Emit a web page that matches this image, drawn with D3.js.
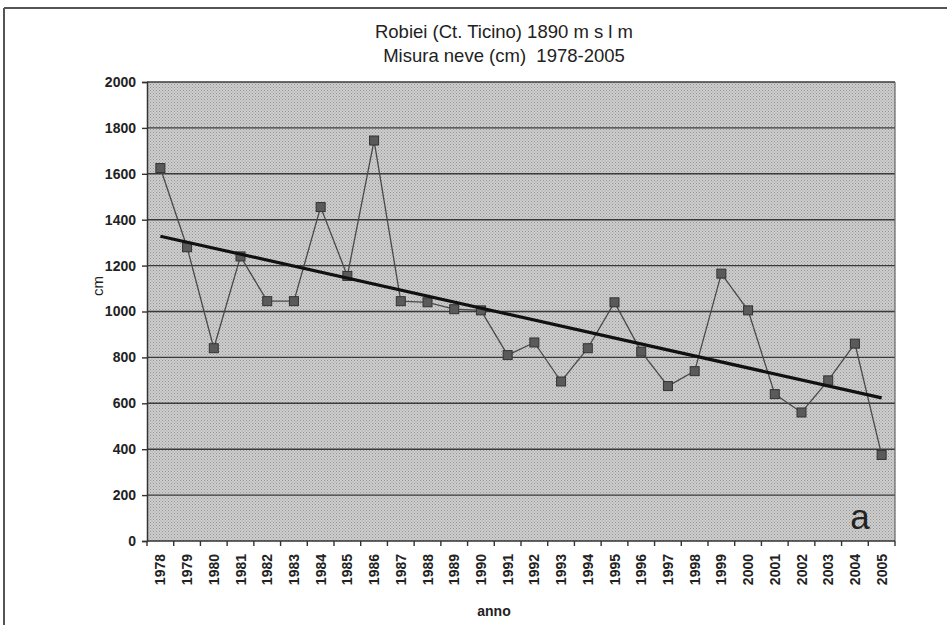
<!DOCTYPE html>
<html>
<head>
<meta charset="utf-8">
<script src="https://cdn.jsdelivr.net/npm/d3@7/dist/d3.min.js"></script>
<style>
	body { margin: 0; background: #fff; }
	svg { display: block; font-family: "Liberation Sans", Arial, sans-serif; }
</style>
</head>
<body>
<svg id="chart" width="947" height="625"></svg>
<script>
// data (snow depth, cm)
const years = [1978, 1979, 1980, 1981, 1982, 1983, 1984, 1985, 1986, 1987, 1988, 1989, 1990, 1991,
	1992, 1993, 1994, 1995, 1996, 1997, 1998, 1999, 2000, 2001, 2002, 2003, 2004, 2005];
const snow = [1625, 1280, 840, 1240, 1045, 1045, 1455, 1155, 1745, 1045, 1040, 1010, 1005, 810,
	865, 695, 840, 1040, 825, 675, 740, 1165, 1005, 640, 560, 700, 860, 375];
const yTicks = [0, 200, 400, 600, 800, 1000, 1200, 1400, 1600, 1800, 2000];
const titleLines = ["Robiei (Ct. Ticino) 1890 m s l m", "Misura neve (cm)  1978-2005"];

const svg = d3.select('#chart');

// plot area
const pLeft = 147, pRight = 895, pTop = 82, pBottom = 541;

// frame lines (top + left only are visible)
svg.append("line").attr("x1", 4).attr("y1", 8).attr("x2", 947).attr("y2", 8)
	.attr("stroke", "#555").attr("stroke-width", 2);
svg.append("line").attr("x1", 4).attr("y1", 8).attr("x2", 4).attr("y2", 625)
	.attr("stroke", "#555").attr("stroke-width", 2);

// dotted grey background like the scanned print
const defs = svg.append("defs");
const pat = defs.append("pattern").attr("id", "dots")
	.attr("width", 3).attr("height", 3).attr("patternUnits", "userSpaceOnUse");
pat.append("rect").attr("width", 3).attr("height", 3).attr("fill", "#cdcdcd");
pat.append("rect").attr("width", 1).attr("height", 1).attr("fill", "#959595");
pat.append("rect").attr("x", 1.5).attr("y", 1.5).attr("width", 1).attr("height", 1).attr("fill", "#a3a3a3");

svg.append("rect")
	.attr("x", pLeft).attr("y", pTop)
	.attr("width", pRight - pLeft).attr("height", pBottom - pTop)
	.attr("fill", "url(#dots)");

const x = d3.scaleBand().domain(years).range([pLeft, pRight]);
const y = d3.scaleLinear().domain([0, 2000]).range([pBottom, pTop]);

// horizontal gridlines
svg.append("g").selectAll("line").data(yTicks.slice(1)).join("line")
	.attr("x1", pLeft).attr("x2", pRight)
	.attr("y1", d => y(d)).attr("y2", d => y(d))
	.attr("stroke", "#3a3a3a").attr("stroke-width", 1.4);

// right border of plot
svg.append("line").attr("x1", pRight).attr("x2", pRight).attr("y1", pTop).attr("y2", pBottom)
	.attr("stroke", "#666").attr("stroke-width", 1.2);

// y axis
const yAxis = svg.append("g").attr("transform", `translate(${pLeft},0)`)
	.call(d3.axisLeft(y).tickValues(yTicks).tickFormat(d3.format("d")).tickSize(5).tickPadding(6));
yAxis.select(".domain").attr("stroke", "#333").attr("stroke-width", 1.5);
yAxis.selectAll(".tick line").attr("stroke", "#333").attr("stroke-width", 1.4);
yAxis.selectAll("text").attr("font-size", 14).attr("font-weight", "bold").attr("fill", "#222")
	.attr("font-family", "Liberation Sans, Arial, sans-serif");

// x axis: ticks sit between categories
const xg = svg.append("g").attr("transform", `translate(0,${pBottom})`);
xg.append("line").attr("x1", pLeft).attr("x2", pRight).attr("y1", 0).attr("y2", 0)
	.attr("stroke", "#333").attr("stroke-width", 1.5);
const edges = years.map(d => x(d)).concat([pRight]);
xg.selectAll(".tk").data(edges).join("line").attr("class", "tk")
	.attr("x1", d => d).attr("x2", d => d).attr("y1", 0).attr("y2", 5)
	.attr("stroke", "#333").attr("stroke-width", 1.4);
xg.selectAll(".yl").data(years).join("text").attr("class", "yl")
	.attr("transform", d => `translate(${x(d) + x.bandwidth() / 2 + 5},13) rotate(-90)`)
	.attr("text-anchor", "end")
	.attr("font-size", 14).attr("font-weight", "bold").attr("fill", "#222")
	.text(d => d);

// data line
const pts = years.map((yr, i) => ({ x: x(yr) + x.bandwidth() / 2, y: y(snow[i]) }));
const line = d3.line().x(d => d.x).y(d => d.y);
svg.append("path").datum(pts).attr("d", line)
	.attr("fill", "none").attr("stroke", "#4a4a4a").attr("stroke-width", 1.3);

svg.append("g").selectAll("rect").data(pts).join("rect")
	.attr("x", d => d.x - 4.5).attr("y", d => d.y - 4.5)
	.attr("width", 9).attr("height", 9)
	.attr("fill", "#5a5a5a").attr("stroke", "#333").attr("stroke-width", 1);

// linear trend (least squares over the series)
const idx = years.map((d, i) => i + 1);
const mx = d3.mean(idx), my = d3.mean(snow);
const slope = d3.sum(idx, (t, i) => (t - mx) * (snow[i] - my)) / d3.sum(idx, t => (t - mx) * (t - mx));
const icpt = my - slope * mx;
const trend = [
	{ x: x(years[0]) + x.bandwidth() / 2, y: y(icpt + slope * idx[0]) },
	{ x: x(years[years.length - 1]) + x.bandwidth() / 2, y: y(icpt + slope * idx[idx.length - 1]) }
];
svg.append("path").datum(trend).attr("d", line)
	.attr("stroke", "#111").attr("stroke-width", 3.2).attr("fill", "none");

// titles
svg.append("g").selectAll("text").data(titleLines).join("text")
	.attr("x", 504).attr("y", (d, i) => 38 + i * 24)
	.attr("text-anchor", "middle").attr("font-size", 18.5).attr("fill", "#222")
	.attr("xml:space", "preserve")
	.text(d => d);

// axis titles
svg.append("text").attr("transform", "translate(103,286) rotate(-90)")
	.attr("text-anchor", "middle").attr("font-size", 15).attr("fill", "#222").text("cm");
svg.append("text").attr("x", 494).attr("y", 616)
	.attr("text-anchor", "middle").attr("font-size", 14).attr("font-weight", "bold").attr("fill", "#222").text("anno");

// panel letter
svg.append("text").attr("x", 860).attr("y", 529)
	.attr("text-anchor", "middle").attr("font-size", 35).attr("fill", "#222").text("a");
</script>
</body>
</html>
